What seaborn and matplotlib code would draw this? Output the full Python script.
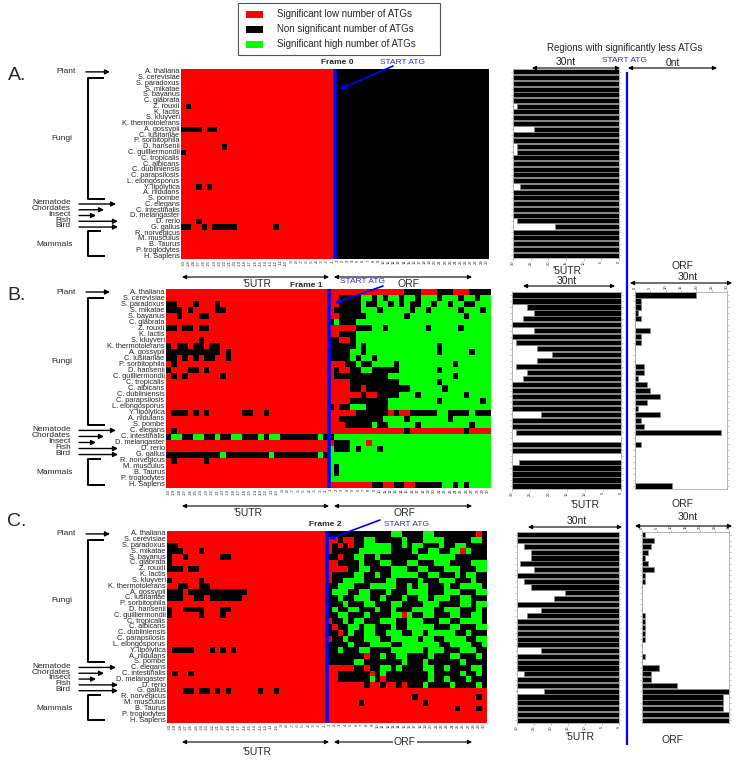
import numpy as np
import pandas as pd
import matplotlib
matplotlib.use("Agg")
import matplotlib.pyplot as plt
import seaborn as sns
from matplotlib.colors import ListedColormap
from matplotlib.patches import Rectangle, FancyArrowPatch
from matplotlib.lines import Line2D

# ---------------- data ----------------
species = ["A. thaliana", "S. cerevisiae", "S. paradoxus", "S. mikatae", "S. bayanus",
           "C. glabrata", "Z. rouxii", "K. lactis", "S. kluyveri", "K. thermotolerans",
           "A. gossypii", "C. lusitaniae", "P. sorbitophila", "D. hansenii",
           "C. guilliermondii", "C. tropicalis", "C. albicans", "C. dubliniensis",
           "C. parapsilosis", "L. elongosporus", "Y. lipolytica", "A. nidulans", "S. pombe",
           "C. elegans", "C. intestinalis", "D. melangaster", "D. rerio", "G. gallus",
           "R. norvegicus", "M. musculus", "B. Taurus", "P. troglodytes", "H. Sapiens"]

utr_ticks = ["-30", "-29", "-28", "-27", "-26", "-25", "-24", "-23", "-22", "-21",
             "-20", "-19", "-18", "-17", "-16", "-15", "-14", "-13", "-12", "-11",
             "-10", "-9", "-8", "-7", "-6", "-5", "-4", "-3", "-2", "-1"]
orf_ticks = ["1", "2", "3", "4", "5", "6", "7", "8", "9", "10",
             "11", "12", "13", "14", "15", "16", "17", "18", "19", "20",
             "21", "22", "23", "24", "25", "26", "27", "28", "29", "30"]

legend_labels = ["Significant low number of ATGs", "Non significant number of ATGs",
                 "Significant high number of ATGs"]

# cell states: r = significant low, k = non significant, g = significant high
R = "rrrrrrrrrr" "rrrrrrrrrr" "rrrrrrrrrr"
K = "kkkkkkkkkk" "kkkkkkkkkk" "kkkkkkkkkk"
G = "gggggggggg" "gggggggggg" "gggggggggg"

A_utr = [R, R, R, R, R, R,
         "rkrrrrrrrrrrrrrrrrrrrrrrrrrrrr", R, R, R,
         "kkkkrkkrrrrrrrrrrrrrrrrrrrrrrr", R, R,
         "rrrrrrrrkrrrrrrrrrrrrrrrrrrrrr",
         "krrrrrrrrrrrrrrrrrrrrrrrrrrrrr", R, R, R, R, R,
         "rrrkrkrrrrrrrrrrrrrrrrrrrrrrrr", R, R, R, R, R,
         "rrrkrrrrrrrrrrrrrrrrrrrrrrrrrr",
         "kkrrkrkkkkkrrrrrrrkrrrrrrrrrrr", R, R, R, R, R]
A_orf = [K, K, K, K, K, K, K, K, K, K, K, K, K, K, K, K, K,
         K, K, K, K, K, K, K, K, K, K, K, K, K, K, K, K]

B_utr = [R, R,
         "kkrrrkrrrkrrrrrrrrrrrrrrrrrrrr",
         "kkkrkrrrrkkrrrrrrrrrrrrrrrrrrr",
         "rrkrrrkkrrrrrrrrrrrrrrrrrrrrrr", R,
         "kkrkkrkkrrrrrrrrrrrrrrrrrrrrrr", R,
         "rrrrrrkrrrrrrrrrrrrrrrrrrrrrrr",
         "krkkrkkrkkrrrrrrrrrrrrrrrrrrrr",
         "kkkkkkkkkkrkrrrrrrrrrrrrrrrrrr",
         "kkrkrkrkkrrkrrrrrrrrrrrrrrrrrr",
         "rkrrrrrrrrrrrrrrrrrrrrrrrrrrrr",
         "krrrkkrkrrrrrrrrrrrrrrrrrrrrrr",
         "rkrkrrrrrrkrrrrrrrrrrrrrrrrrrr", R, R, R, R, R,
         "rkkkrkrkrrrrrrkkrrkrrrrrrrrrrr", R, R,
         "rkrrrrrrrrrrrrrrrrrrrrrrrrrrrr",
         "kggkkggkkgkkggkkkgkggkkkkkkkgk", R, R,
         "kkkkkkkkkkgkkkkkkkkgkkkkkkkkgk",
         "rkrrrrrkrrrrrrrrrrrrrrrrrrrrrr", R, R, R, R]
B_orf = ["rrrrrrrrrrrrrrkkkrrrkkkrrrkkkk",
         "rrkkkkggkgkggkggkgggkgggkggkgg",
         "rrkkkkgkkggkgkgkkggkggkggkkggg",
         "rkkkkkgggkgggggkggkgggggkgggkg",
         "rrkkkkkgggggggkggggggggggkgggg",
         "kgkkkggggggggggggggggggggggggg",
         "rrrrrkkkggkgggggggkgggggkggggg",
         "rrkkkggggggggggggggggggggggggg",
         "kkrrkggggggggggggggggggggggggg",
         "kkkkkgkgggggggggggggkggggggggg",
         "kkkkggkgggggggggggggkgggggkggg",
         "kkkkgkggkggggggggggggggggggggg",
         "rrrkkgkkggggkggggggggggkgggggg",
         "rkrrkkggkkkkkgggggggkggggggggg",
         "rkkkkkkkkkkggggggggggggkgggggg",
         "rrrrkkkkkkkkkgggggggkggggggggg",
         "rrrrkkrkkkkkkkkggggggkgggggggg",
         "rrrrrrkrrkkkkgggkggggggggkgggg",
         "rrrrkkkkkkkgggggggggkgggggggkg",
         "krkkgggkkkkggggggggggggggggggg",
         "rrrrrkkkkkkrkrrkkkkkggkkkkgkkk",
         "rrkkkkkkkkggggkgggggggkggggggg",
         "rrrkkkkkgkkgggggkgggggggggkggg",
         "rrrrrrrrrrrrrrkrrrrrrrrrrkrrrr",
         "kggggggggggggggggggggggggggggg",
         "rkkkgggrgggggggggggggggggggggg",
         "gkkkgkgggkgggggggggggggggggggg",
         G, G,
         "gkgggggggggggggggggggggggggggg",
         "gkgggggggggggggggggggggggggggg",
         G,
         "rrrrrrrrkkrrkkrrkkkkkggkgkgggg"]

C_utr = [R, R,
         "kkrrrrrrrrrrrrrrrrrrrrrrrrrrrr",
         "kkkrrrkrrrrrrrrrrrrrrrrrrrrrrr",
         "krrkrrrrrrkkrrrrrrrrrrrrrrrrrr",
         "krrrrrrrrrrrrrrrrrrrrrrrrrrrrr",
         "kkkrkkrrrrrrrrrrrrrrrrrrrrrrrr", R,
         "krrrrrkrrrrrrrrrrrrrrrrrrrrrrr",
         "rrkkrrkkrrrrrrrrrrrrrrrrrrrrrr",
         "kkkrkkkkkkkkkkkrrrrrrrrrrrrrrr",
         "kkkrrkkrkkkkkkrrrrrrrrrrrrrrrr", R,
         "krrkkkkrrrkkrrrrrrrrrrrrrrrrrr",
         "krrrrrkrrrkrrrrrrrrrrrrrrrrrrr", R, R, R, R, R,
         "rkkkkrrrkrkrkrrrrrrrrrrrrrrrrr", R, R, R,
         "rkrrkrrrrrrrrrrrrrrrrrrrrrrrrr", R, R,
         "rrrkkrkkrkrkrrrrrkrrkrrrrrrrrr", R, R, R, R, R]
C_orf = ["kkkkkkkkkkkkggkkkkggkkkkkkkkrk",
         "rrkrrkkggkkkkkgkkkggggkkkkkggk",
         "rkrkrkkgggggkkgkggkkkgkkggkkkk",
         "rkkkkkggggggkkkkgkkggkkggrgkkk",
         "kkrkkggkkgkkkkkkkgggggggkkkkkk",
         "rrkkkkgkkkggkkkggkkkgggkkkkggg",
         "rrrrkkggkkkkgggkkggkkkgggkkkgg",
         "rkkkkggkkgkkgggggkkggkkkgkggkk",
         "rkkggggkkkkggkkkkgkkkgggkkkgkk",
         "kkgggkkkgggggkkgkggkkkgkkggggk",
         "kgggkkggkkkgkkkggggkkkgggkkkgg",
         "kkgkkgggkkgkkkgkkggkgggkkggkkk",
         "kkkgkkkggkkkggkkkkgggkkkkggkgg",
         "kgkkggkkkgkkgkkkggggkkgggkkkgk",
         "kkggkkkgkkkkggrgkkggkkkggkkggk",
         "rkkgkggkkkgggkkgggkkkggkkggggk",
         "krkkggkggkkkgkkgggggkkkggkkkgg",
         "kkrkgkkggkkgggkkggkgggggkkgkkk",
         "rkkgkkkgggkkgggggkggkkggggkkgg",
         "kkkkgkkkggggkkgggggggkkggggkkg",
         "kkgkkkggkkkkggggggkgggkkkgggkk",
         "kkkkkkkrkkgkkggkkkkgkkkggkkkgk",
         "kkkkkggkkkkkkkgkkkgkkkkkkgkkkk",
         "rrrrrkkrkkggkgkkkkggkkgkkkkggk",
         "rrkkkkkkrkgkkkkkkkkgkkkkkgkkgk",
         "rrkkkkkkgkrkkkkkkkkgkkgkkkgkkk",
         "rrrrrrrkrrkrrkrkkkgkkkkgkkkkgk",
         R,
         "rrrrrrrrrrrrrrrrkrrrrrrrrrrrkr",
         "rrrrrrkrrrrrrrrrrrkrrrrrrrrrrr",
         "rrrrrrrrrrrrrrrrrrrrrrrrkrrrkr",
         R, R]

# bar lengths (regions with significantly less ATGs, nt)
A_utr_len = [30, 30, 30, 30, 30, 30, 29, 30, 30, 30, 24, 30, 30, 29, 29, 30, 30,
             30, 30, 30, 28, 30, 30, 30, 30, 30, 29, 18, 30, 30, 30, 30, 30]
B_utr_len = [30, 30, 26, 24, 27, 30, 24, 30, 29, 23, 19, 23, 29, 26, 27, 30, 30,
             30, 30, 30, 22, 30, 30, 29, 0, 30, 30, 0, 28, 30, 30, 30, 30]
B_orf_len = [20, 2, 2, 1, 2, 0, 5, 2, 2, 0, 0, 0, 3, 3, 1, 4, 5,
             8, 4, 1, 8, 2, 3, 28, 0, 2, 0, 0, 0, 0, 0, 0, 12]
C_utr_len = [30, 30, 28, 26, 26, 29, 25, 30, 28, 26, 16, 19, 30, 23, 27, 30, 30,
             30, 30, 30, 23, 30, 30, 30, 28, 30, 30, 22, 30, 30, 30, 30, 30]
C_orf_len = [1, 4, 3, 2, 1, 2, 4, 1, 1, 0, 0, 0, 0, 0, 1, 1, 1,
             1, 1, 0, 0, 1, 0, 6, 3, 3, 12, 30, 28, 28, 28, 30, 30]
bar_ticks = [0, 5, 10, 15, 20, 25, 30]

# ---------------- styling ----------------
sns.set_theme(style="ticks")
plt.rcParams["font.family"] = ["Liberation Sans", "DejaVu Sans"]

RED, BLACK, GREEN, BLUE = "#FF0000", "#000000", "#00FF00", "#0000FF"
ATG_BLUE = "#3333CC"
cmap = ListedColormap([RED, BLACK, GREEN])
CODE = {"r": 0, "k": 1, "g": 2}

W, H = 742, 760
fig = plt.figure(figsize=(W / 100, H / 100), dpi=100)
fig.patch.set_facecolor("white")


def fx(x):
    return x / W


def fy(y):
    return 1 - y / H


def add_ax(x0, y0, x1, y1):
    return fig.add_axes([x0 / W, 1 - y1 / H, (x1 - x0) / W, (y1 - y0) / H])


def txt(x, y, s, ha="center", va="center", **kw):
    fig.text(fx(x), fy(y), s, ha=ha, va=va, **kw)


def arrow(x0, y0, x1, y1, style="<|-|>", color="black", lw=0.8, ms=6):
    fig.add_artist(FancyArrowPatch((fx(x0), fy(y0)), (fx(x1), fy(y1)),
                                   arrowstyle=style, mutation_scale=ms, lw=lw,
                                   color=color, transform=fig.transFigure,
                                   shrinkA=0, shrinkB=0))


def seg(xs, ys, color="black", lw=1.2):
    fig.add_artist(Line2D([fx(v) for v in xs], [fy(v) for v in ys], color=color,
                          lw=lw, transform=fig.transFigure, solid_capstyle="butt"))


def fit30(s):
    return (s + s[-1] * 30)[:30]


def draw_heat(box, utr_rows, orf_rows):
    x0, y0, x1, y1 = box
    mat = np.array([[CODE[c] for c in fit30(u) + fit30(o)] for u, o in zip(utr_rows, orf_rows)])
    df = pd.DataFrame(mat, index=species, columns=utr_ticks + orf_ticks)
    ax = add_ax(x0, y0, x1, y1)
    sns.heatmap(df, ax=ax, cmap=cmap, vmin=-0.5, vmax=2.5, cbar=False,
                xticklabels=True, yticklabels=True)
    ax.set_xlabel("")
    ax.set_ylabel("")
    ax.tick_params(axis="both", length=0, pad=1)
    ax.tick_params(axis="y", labelsize=5.3, rotation=0)
    ax.tick_params(axis="x", labelsize=3, rotation=90, pad=0.5)
    ax.axvline(30, color=BLUE, lw=2.6)
    return ax


def draw_bars(box, values, side):
    x0, y0, x1, y1 = box
    ax = add_ax(x0, y0, x1, y1)
    df = pd.DataFrame({"species": species, "n": values})
    sns.barplot(data=df, x="n", y="species", orient="h", color=BLACK, saturation=1,
                edgecolor="#8a8a8a", linewidth=0.5, width=0.88, ax=ax)
    ax.set_ylim(len(species) - 0.5, -0.5)
    ax.set_xlabel("")
    ax.set_ylabel("")
    ax.set_yticks(range(len(species)))
    ax.set_yticklabels([])
    ax.set_xticks(bar_ticks)
    ax.set_xticklabels([str(t) for t in bar_ticks], fontsize=3, rotation=90)
    if side == "utr":
        ax.set_xlim(30, 0)
        ax.tick_params(axis="x", bottom=True, top=False, length=1.5, width=0.4,
                       color="#888888", pad=0.5)
    else:
        ax.set_xlim(0, 30)
        ax.xaxis.tick_top()
        ax.tick_params(axis="x", bottom=False, top=True, length=1.5, width=0.4,
                       color="#888888", pad=0.5)
    ax.tick_params(axis="y", left=True, right=True, length=1.3, width=0.4, color="#999999")
    for sp in ax.spines.values():
        sp.set_visible(True)
        sp.set_color("#aaaaaa")
        sp.set_linewidth(0.6)
    return ax


def draw_groups(y0, rh, letter, letter_y):
    def ry(i):
        return y0 + (i + 0.5) * rh
    txt(17, letter_y, letter, fontsize=14)
    fs = 6
    txt(66, ry(0), "Plant", fontsize=fs)
    arrow(86, ry(0), 110, ry(0), style="-|>", lw=1.0, ms=7)
    seg([104, 88, 88, 105], [ry(1), ry(1), ry(22), ry(22)], lw=1.4)
    txt(62, (ry(1) + ry(22)) / 2, "Fungi", fontsize=fs)
    for i, (name, xe) in enumerate([("Nematode", 116), ("Chordates", 104), ("Insect", 96),
                                   ("Fish", 118), ("Bird", 118)]):
        yy = ry(23 + i) - 1.5
        txt(71, yy, name, ha="right", fontsize=fs)
        arrow(79, yy + 1.2, xe, yy + 1.2, style="-|>", lw=1.0, ms=7)
    seg([101, 88, 88, 105], [ry(28) - 2, ry(28) - 2, ry(32), ry(32)], lw=1.4)
    txt(55, (ry(28) + ry(32)) / 2, "Mammals", fontsize=fs)


# ---------------- legend ----------------
fig.add_artist(Rectangle((fx(238), fy(55)), (440 - 238) / W, 52 / H, fill=False,
                         edgecolor="#555555", lw=0.8, transform=fig.transFigure))
for i, (col, lab) in enumerate(zip([RED, BLACK, GREEN], legend_labels)):
    yc = 14 + i * 15
    fig.add_artist(Rectangle((fx(246), fy(yc + 3.5)), 17 / W, 7 / H, facecolor=col,
                             edgecolor="none", transform=fig.transFigure))
    txt(277, yc, lab, ha="left", fontsize=7)

# ---------------- heatmaps ----------------
panels = [
    ((181, 69, 489, 259), A_utr, A_orf, "A.", 76),
    ((166, 289, 491, 488), B_utr, B_orf, "B.", 296),
    ((167, 531, 487, 723), C_utr, C_orf, "C.", 522),
]
for (box, u, o, letter, ly) in panels:
    draw_heat(box, u, o)
    x0, y0, x1, y1 = box
    rh = (y1 - y0) / len(species)
    draw_groups(y0, rh, letter, ly)

# frame labels and START ATG arrows
txt(337, 62, "Frame 0", fontsize=6, fontweight="bold")
txt(403, 62, "START ATG", fontsize=6, color=ATG_BLUE)
arrow(393, 66, 340, 89, style="-|>", color=BLUE, lw=1.2, ms=7)
txt(306, 286, "Frame 1", fontsize=6, fontweight="bold")
txt(362, 282, "START ATG", fontsize=6, color=ATG_BLUE)
arrow(383, 286, 335, 303, style="-|>", color=BLUE, lw=1.2, ms=7)
txt(325, 525, "Frame 2", fontsize=6, fontweight="bold")
txt(407, 524, "START ATG", fontsize=6, color=ATG_BLUE)
arrow(380, 520, 329, 539, style="-|>", color=BLUE, lw=1.2, ms=7)

# region arrows below heatmaps
for ya in [277, 506, 742]:
    arrow(182, ya, 329, ya)
    arrow(334, ya, 472, ya)
txt(257, 284, "'5UTR", fontsize=7.5)
txt(409, 284, "ORF", fontsize=7.5)
txt(248, 513, "'5UTR", fontsize=7.5)
txt(405, 513, "ORF", fontsize=7.5)
txt(257, 752, "'5UTR", fontsize=7.5)
txt(405, 742, "ORF", fontsize=7.5, bbox=dict(facecolor="white", edgecolor="none", pad=0.5))

# ---------------- bar charts ----------------
draw_bars((513, 69, 619, 258), A_utr_len, "utr")
draw_bars((512, 292, 621, 489), B_utr_len, "utr")
draw_bars((635, 292, 727, 489), B_orf_len, "orf")
draw_bars((517, 532, 619, 723), C_utr_len, "utr")
draw_bars((642, 532, 729, 723), C_orf_len, "orf")

# big start line
seg([627, 627], [72, 745], color=BLUE, lw=1.6)

txt(625, 48, "Regions with significantly less ATGs", fontsize=7)
txt(566, 62, "30nt", fontsize=7.5)
arrow(532, 68, 620, 68)
txt(625, 61, "START ATG", fontsize=6, color=ATG_BLUE)
txt(673, 63, "0nt", fontsize=7.5)
arrow(628, 68, 717, 68)

txt(567, 271, "'5UTR", fontsize=7.5)
txt(567, 281, "30nt", fontsize=7.5)
arrow(523, 286, 615, 286)
txt(683, 266, "ORF", fontsize=7.5)
txt(688, 277, "30nt", fontsize=7.5)
arrow(630, 283, 732, 283)

txt(585, 505, "'5UTR", fontsize=7.5)
txt(683, 504, "ORF", fontsize=7.5)
txt(577, 521, "30nt", fontsize=7.5)
arrow(528, 527, 622, 527)
txt(688, 517, "30nt", fontsize=7.5)
arrow(635, 526, 732, 526)

txt(580, 737, "'5UTR", fontsize=7.5)
txt(673, 740, "ORF", fontsize=7.5)

fig.savefig("out.png", dpi=100, facecolor="white")
